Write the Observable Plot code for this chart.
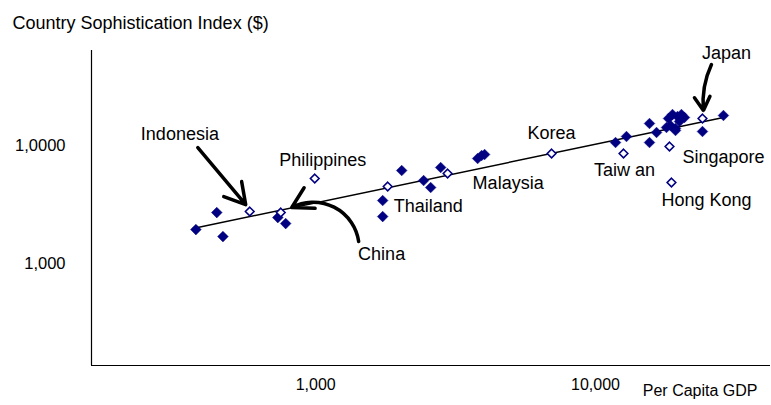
<!DOCTYPE html>
<html>
<head>
<meta charset="utf-8">
<script src="https://cdn.jsdelivr.net/npm/d3@7"></script>
<script src="https://cdn.jsdelivr.net/npm/@observablehq/plot@0.6"></script>
<style>
  body { margin: 0; background: #fff; }
</style>
</head>
<body>
<div id="chart"></div>
<script>
// Per capita GDP vs. country sophistication index (both log scale)

// Highlighted Asian economies (open diamonds)
const openNames = ["Indonesia", "China", "Philippines", "Thailand", "Malaysia", "Korea", "Taiwan", "Singapore", "Hong Kong", "Japan"];
const openGdp   = [581, 750, 992, 1808, 2960, 6965, 12590, 18380, 18680, 24110];
const openIndex = [2759, 2705, 5252, 4493, 5790, 8553, 8553, 9806, 4858, 16930];

// Other countries (filled diamonds)
const filledGdp   = [373, 443, 466, 732, 781, 1735, 1735, 2029, 2430, 2575, 2796, 3790, 3916, 4014,
                     11790, 12900, 15590, 16520, 15590, 18230, 18840, 19630, 20280, 20790, 18530,
                     19310, 19950, 17930, 19310, 24110, 28650];
const filledIndex = [1941, 2705, 1694, 2454, 2183, 3420, 2502, 6140, 5051, 4406, 6511, 7760, 8228, 8391,
                     10602, 11920, 15360, 12890, 10602, 16930, 18310, 17610, 18310, 17270, 14770,
                     13930, 15970, 14210, 13400, 13140, 17960];

// Fitted trend line endpoints
const trendGdp   = [364, 28650];
const trendIndex = [1981, 17270];

// Country labels, centred on their position
const midText  = ["Indonesia", "Philippines", "China", "Korea", "Taiw an", "Japan"];
const midGdp   = [327, 1059, 1720, 6965, 12690, 29360];
const midIndex = [12400, 7462, 1192, 12640, 6140, 60220];

// Country labels, starting at their position
const startText  = ["Thailand", "Malaysia", "Singapore", "Hong Kong"];
const startGdp   = [1899, 3637, 20450, 17210];
const startIndex = [3041, 4764, 7912, 3420];

// Pointer arrows
const indonesiaArrow = {x1: 379, y1: 9616, x2: 562, y2: 3162};
const chinaArrow     = {x1: 1424, y1: 1536, x2: 821, y2: 2983};
const japanArrow     = {x1: 25960, y1: 48580, x2: 24300, y2: 19810};

// Axes
const xTicks = [1000, 10000];
const xTickLabels = ["1,000", "10,000"];
const yTicks = [1000, 10000];
const yTickLabels = ["1,000", "1,0000"];
const xDomain = [158, 42200];
const yDomain = [137, 63800];

const title = "Country Sophistication Index ($)";
const xTitle = "Per Capita GDP";

const navy = "#000080";

const opened = openNames.map((name, i) => ({name, gdp: openGdp[i], index: openIndex[i]}));
const filled = filledGdp.map((gdp, i) => ({gdp, index: filledIndex[i]}));
const trend = trendGdp.map((gdp, i) => ({gdp, index: trendIndex[i]}));
const midLabels = midText.map((text, i) => ({text, gdp: midGdp[i], index: midIndex[i]}));
const startLabels = startText.map((text, i) => ({text, gdp: startGdp[i], index: startIndex[i]}));

const arrowStyle = {x1: "x1", y1: "y1", x2: "x2", y2: "y2", stroke: "#000", strokeWidth: 3.5, headLength: 10};

const chart = Plot.plot({
  width: 771,
  height: 405,
  marginLeft: 91,
  marginRight: 1,
  marginTop: 50,
  marginBottom: 40,
  style: {fontFamily: "'Liberation Sans', Arial, sans-serif", fontSize: "16px", color: "#000", background: "#fff"},
  x: {type: "log", domain: xDomain},
  y: {type: "log", domain: yDomain},
  marks: [
    Plot.ruleX([xDomain[0]], {stroke: "#000", strokeWidth: 1.2}),
    Plot.ruleY([yDomain[0]], {stroke: "#000", strokeWidth: 1.2}),
    Plot.axisX({ticks: xTicks, tickFormat: d => xTickLabels[xTicks.indexOf(d)], tickSize: 0, tickPadding: 13, label: null, fontSize: 16}),
    Plot.axisY({ticks: yTicks, tickFormat: d => yTickLabels[yTicks.indexOf(d)], tickSize: 0, tickPadding: 26, label: null, fontSize: 16.5}),
    Plot.line(trend, {x: "gdp", y: "index", stroke: "#000", strokeWidth: 1.5}),
    Plot.dot(filled, {x: "gdp", y: "index", symbol: "diamond2", r: 4.8, fill: navy, stroke: navy, strokeWidth: 0.5}),
    Plot.dot(opened, {x: "gdp", y: "index", symbol: "diamond2", r: 3.9, fill: "#fff", stroke: navy, strokeWidth: 1.6}),
    Plot.arrow([indonesiaArrow], {...arrowStyle, bend: 0}),
    Plot.arrow([chinaArrow], {...arrowStyle, bend: -55}),
    Plot.arrow([japanArrow], {...arrowStyle, bend: -15}),
    Plot.text(midLabels, {x: "gdp", y: "index", text: "text", textAnchor: "middle", fontSize: 18, fill: "#000"}),
    Plot.text(startLabels, {x: "gdp", y: "index", text: "text", textAnchor: "start", fontSize: 18, fill: "#000"}),
    Plot.text([title], {frameAnchor: "top-left", textAnchor: "start", dx: -79, dy: -34, fontSize: 18, fill: "#000"}),
    Plot.text([xTitle], {frameAnchor: "bottom-right", textAnchor: "end", dx: -13, dy: 30, fontSize: 16, fill: "#000"})
  ]
});

document.getElementById("chart").appendChild(chart);
</script>
</body>
</html>
